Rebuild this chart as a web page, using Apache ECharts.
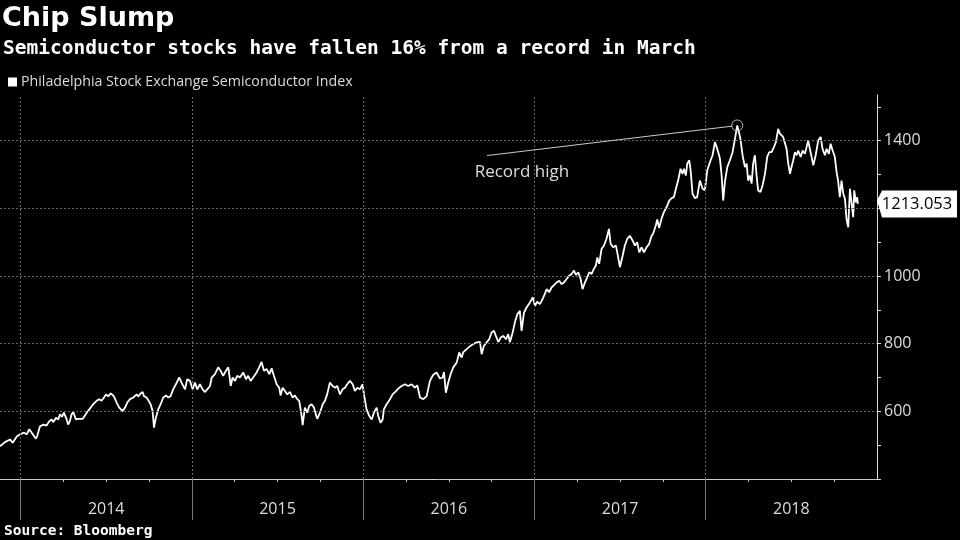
<!DOCTYPE html>
<html>
<head>
<meta charset="utf-8">
<script src="https://cdn.jsdelivr.net/npm/echarts@6/dist/echarts.min.js"></script>
<style>
html,body{margin:0;padding:0;background:#000;}
#chart{width:960px;height:540px;}
</style>
</head>
<body>
<div id="chart"></div>
<script>
// Time in decimal years, index level
const yearFrac = [
2013.880,2013.909,2013.938,2013.954,2013.977,2013.997,2014.006,2014.020,2014.036,2014.051,
2014.065,2014.074,2014.090,2014.097,2014.113,2014.133,2014.152,2014.168,2014.182,2014.191,
2014.207,2014.220,2014.230,2014.242,2014.253,2014.269,2014.278,2014.288,2014.298,2014.308,
2014.323,2014.337,2014.347,2014.363,2014.376,2014.389,2014.405,2014.424,2014.444,2014.459,
2014.473,2014.487,2014.499,2014.512,2014.526,2014.541,2014.551,2014.561,2014.576,2014.596,
2014.610,2014.623,2014.639,2014.658,2014.678,2014.687,2014.701,2014.713,2014.720,2014.736,
2014.748,2014.759,2014.771,2014.779,2014.790,2014.804,2014.818,2014.833,2014.849,2014.862,
2014.876,2014.891,2014.907,2014.926,2014.940,2014.960,2014.973,2014.989,2015.005,2015.018,
2015.032,2015.047,2015.063,2015.077,2015.090,2015.106,2015.116,2015.135,2015.154,2015.168,
2015.183,2015.199,2015.213,2015.227,2015.238,2015.252,2015.265,2015.281,2015.300,2015.316,
2015.329,2015.343,2015.358,2015.378,2015.393,2015.407,2015.421,2015.437,2015.452,2015.466,
2015.479,2015.495,2015.510,2015.518,2015.530,2015.544,2015.557,2015.573,2015.588,2015.602,
2015.615,2015.627,2015.641,2015.647,2015.660,2015.674,2015.685,2015.699,2015.713,2015.724,
2015.732,2015.748,2015.764,2015.777,2015.790,2015.806,2015.822,2015.835,2015.849,2015.865,
2015.880,2015.894,2015.907,2015.923,2015.939,2015.952,2015.966,2015.981,2015.997,2016.005,
2016.020,2016.036,2016.050,2016.063,2016.079,2016.088,2016.102,2016.114,2016.121,2016.137,
2016.157,2016.172,2016.192,2016.211,2016.225,2016.244,2016.263,2016.283,2016.302,2016.316,
2016.332,2016.351,2016.371,2016.390,2016.409,2016.429,2016.448,2016.464,2016.472,2016.483,
2016.497,2016.511,2016.526,2016.546,2016.561,2016.575,2016.584,2016.604,2016.623,2016.643,
2016.663,2016.682,2016.692,2016.705,2016.721,2016.736,2016.750,2016.764,2016.775,2016.789,
2016.803,2016.818,2016.834,2016.847,2016.857,2016.873,2016.886,2016.900,2016.915,2016.925,
2016.939,2016.954,2016.974,2016.990,2017.003,2017.016,2017.032,2017.048,2017.061,2017.071,
2017.086,2017.100,2017.114,2017.130,2017.145,2017.159,2017.172,2017.188,2017.203,2017.217,
2017.231,2017.242,2017.256,2017.270,2017.281,2017.295,2017.308,2017.320,2017.334,2017.347,
2017.359,2017.367,2017.378,2017.392,2017.406,2017.421,2017.435,2017.445,2017.460,2017.476,
2017.489,2017.499,2017.515,2017.528,2017.542,2017.557,2017.573,2017.587,2017.600,2017.612,
2017.626,2017.639,2017.655,2017.670,2017.684,2017.693,2017.709,2017.717,2017.728,2017.742,
2017.756,2017.772,2017.787,2017.801,2017.814,2017.826,2017.839,2017.853,2017.865,2017.873,
2017.884,2017.892,2017.904,2017.912,2017.923,2017.937,2017.950,2017.966,2017.982,2017.995,
2018.009,2018.025,2018.040,2018.054,2018.064,2018.073,2018.083,2018.093,2018.102,2018.112,
2018.126,2018.141,2018.157,2018.171,2018.184,2018.196,2018.204,2018.215,2018.229,2018.239,
2018.248,2018.258,2018.268,2018.277,2018.287,2018.297,2018.306,2018.320,2018.332,2018.346,
2018.359,2018.371,2018.385,2018.398,2018.410,2018.423,2018.433,2018.443,2018.452,2018.462,
2018.472,2018.482,2018.492,2018.501,2018.511,2018.521,2018.531,2018.540,2018.554,2018.566,
2018.579,2018.589,2018.598,2018.608,2018.618,2018.628,2018.642,2018.657,2018.671,2018.682,
2018.696,2018.706,2018.719,2018.729,2018.741,2018.754,2018.764,2018.773,2018.783,2018.793,
2018.803,2018.813,2018.822,2018.832,2018.842,2018.852,2018.861,2018.867,2018.877,2018.884,
2018.888
];
const soxIndex = [
497,509,517,507,525,532,527,537,532,547,
537,532,519,527,555,561,558,571,576,568,
581,576,591,584,596,576,561,571,591,598,
576,578,574,578,588,598,608,621,631,636,
631,641,650,644,653,647,638,626,611,601,
611,626,636,641,650,644,653,657,645,641,
631,621,601,552,581,606,621,641,647,641,
645,665,680,700,685,665,695,690,665,685,
665,680,665,657,665,675,700,710,730,720,
705,720,730,675,700,690,705,700,715,695,
705,690,700,715,730,746,720,725,710,727,
705,680,670,647,670,660,650,657,641,647,
636,631,586,559,611,596,616,621,611,591,
578,596,621,631,650,685,675,670,675,650,
665,670,680,690,680,660,670,665,680,650,
606,586,576,596,611,586,566,576,606,621,
636,650,660,670,675,680,675,680,670,677,
641,636,645,690,708,715,697,700,716,655,
685,710,730,744,774,759,774,784,792,799,
804,805,769,794,804,813,833,838,823,805,
818,823,813,828,804,833,863,887,897,838,
892,907,922,937,912,924,917,932,947,961,
952,966,973,981,986,976,981,991,1001,1006,
1016,1003,1011,991,961,981,996,1011,1006,1021,
1031,1055,1036,1080,1090,1110,1139,1095,1085,1090,
1055,1026,1060,1090,1110,1119,1105,1090,1100,1070,
1085,1070,1085,1095,1119,1125,1150,1167,1142,1169,
1189,1204,1223,1230,1233,1258,1282,1317,1302,1317,
1297,1332,1342,1312,1243,1230,1233,1282,1258,1253,
1312,1337,1357,1396,1381,1366,1347,1297,1223,1278,
1322,1342,1366,1406,1445,1421,1401,1357,1322,1332,
1282,1297,1273,1332,1357,1297,1253,1248,1268,1302,
1352,1366,1366,1381,1396,1435,1421,1426,1411,1406,
1376,1332,1302,1322,1342,1366,1357,1371,1352,1371,
1361,1381,1401,1376,1352,1327,1357,1401,1411,1376,
1357,1376,1361,1391,1371,1352,1307,1282,1233,1282,
1243,1228,1169,1144,1258,1253,1174,1253,1218,1233,
1213.053
];
const yearTicks = [2014, 2015, 2016, 2017, 2018];
const yearLabelPos = [2014.5, 2015.5, 2016.5, 2017.5, 2018.5];
const quarterTicks = [2014.25,2014.5,2014.75,2015.25,2015.5,2015.75,2016.25,2016.5,2016.75,2017.25,2017.5,2017.75,2018.25,2018.5,2018.75];
const yGridValues = [600, 800, 1000, 1200, 1400];
const yLabelValues = [600, 800, 1000, 1400];
const yTickValues = [400,500,600,700,800,900,1000,1100,1200,1300,1400,1500];
const recordHigh = [2018.184, 1445];
const lastValue = '1213.053';
const xMin = 2013.88, xMax = 2019.0;

const chart = echarts.init(document.getElementById('chart'), null, {renderer: 'canvas'});
const seriesData = yearFrac.map((t, i) => [t, soxIndex[i]]);
const axisFont = 'Open Sans';

chart.setOption({
  animation: false,
  backgroundColor: '#000',
  title: [
    {text: 'Chip Slump', left: 2, top: 5, padding: 0,
     textStyle: {color: '#fff', fontSize: 27, fontWeight: 'bold', fontFamily: 'DejaVu Sans'}},
    {text: 'Semiconductor stocks have fallen 16% from a record in March', left: 3, top: 39, padding: 0,
     textStyle: {color: '#fff', fontSize: 19.5, fontWeight: 'bold', fontFamily: 'DejaVu Sans Mono'}},
    {text: 'Source: Bloomberg', left: 4, top: 524, padding: 0,
     textStyle: {color: '#fff', fontSize: 14.5, fontWeight: 'bold', fontFamily: 'DejaVu Sans Mono'}}
  ],
  legend: {
    data: ['Philadelphia Stock Exchange Semiconductor Index'],
    left: 8, top: 75, padding: 0,
    icon: 'rect', itemWidth: 9, itemHeight: 9, itemGap: 4,
    textStyle: {color: '#ddd', fontSize: 14.2, fontFamily: axisFont, padding: [0,0,0,-1]}
  },
  grid: {left: 0, right: 83, top: 95, bottom: 61, containLabel: false},
  xAxis: [
    {type: 'value', min: xMin, max: xMax, position: 'bottom',
     axisLine: {show: true, lineStyle: {color: '#ccc', width: 1}},
     axisTick: {show: true, customValues: quarterTicks, length: 3, lineStyle: {color: '#ccc'}},
     axisLabel: {show: false}, splitLine: {show: false}},
    {type: 'value', min: xMin, max: xMax, position: 'bottom',
     axisLine: {show: false},
     axisTick: {show: true, customValues: yearTicks, length: 41, lineStyle: {color: '#777'}},
     axisLabel: {show: true, customValues: yearLabelPos, margin: 22,
       formatter: v => String(Math.floor(v)),
       color: '#ddd', fontSize: 16, fontFamily: axisFont},
     splitLine: {show: false}}
  ],
  yAxis: {
    type: 'value', position: 'right', min: 400, max: 1535,
    axisLine: {show: true, lineStyle: {color: '#ddd', width: 1}},
    axisTick: {show: true, customValues: yTickValues, length: 4, lineStyle: {color: '#ddd'}},
    axisLabel: {show: true, customValues: yLabelValues, margin: 7, color: '#ddd', fontSize: 16, fontFamily: axisFont,
      formatter: v => String(v)},
    splitLine: {show: false}
  },
  series: [
    {
      name: 'gridlines', type: 'line', data: [], silent: true, z: 1,
      markLine: {
        silent: true, symbol: 'none', label: {show: false},
        lineStyle: {color: '#666', type: [2, 2], width: 1},
        data: yGridValues.map(v => ({yAxis: v})).concat(yearTicks.map(v => ({xAxis: v})))
      }
    },
    {
      name: 'Philadelphia Stock Exchange Semiconductor Index',
      type: 'line', data: seriesData, showSymbol: false, z: 3,
      color: '#fff',
      lineStyle: {color: '#fff', width: 1.8},
      markLine: {
        silent: true, symbol: 'none', label: {show: false},
        lineStyle: {color: '#ccc', type: 'solid', width: 1},
        data: [[{coord: [2016.723, 1356]}, {coord: [2018.155, 1443]}]]
      },
      markPoint: {
        silent: true,
        data: [
          {coord: recordHigh, symbol: 'circle', symbolSize: 11,
           itemStyle: {color: 'rgba(0,0,0,0)', borderColor: '#bbb', borderWidth: 1},
           label: {show: false}},
          {coord: [2016.927, 1308], symbol: 'circle', symbolSize: 1,
           itemStyle: {color: 'rgba(0,0,0,0)'},
           label: {show: true, position: 'inside', formatter: 'Record high',
             color: '#ddd', fontSize: 17, fontFamily: axisFont}},
          {coord: [xMax, 1213.053], symbol: 'path://M0,10 L5,0 L80,0 L80,27 L5,27 Z',
           symbolSize: [80, 27], symbolOffset: [40, 0], symbolKeepAspect: false,
           itemStyle: {color: '#fff'},
           label: {show: true, position: 'inside', formatter: lastValue,
             color: '#000', fontSize: 16.5, fontFamily: axisFont}}
        ]
      }
    }
  ]
});
</script>
</body>
</html>
